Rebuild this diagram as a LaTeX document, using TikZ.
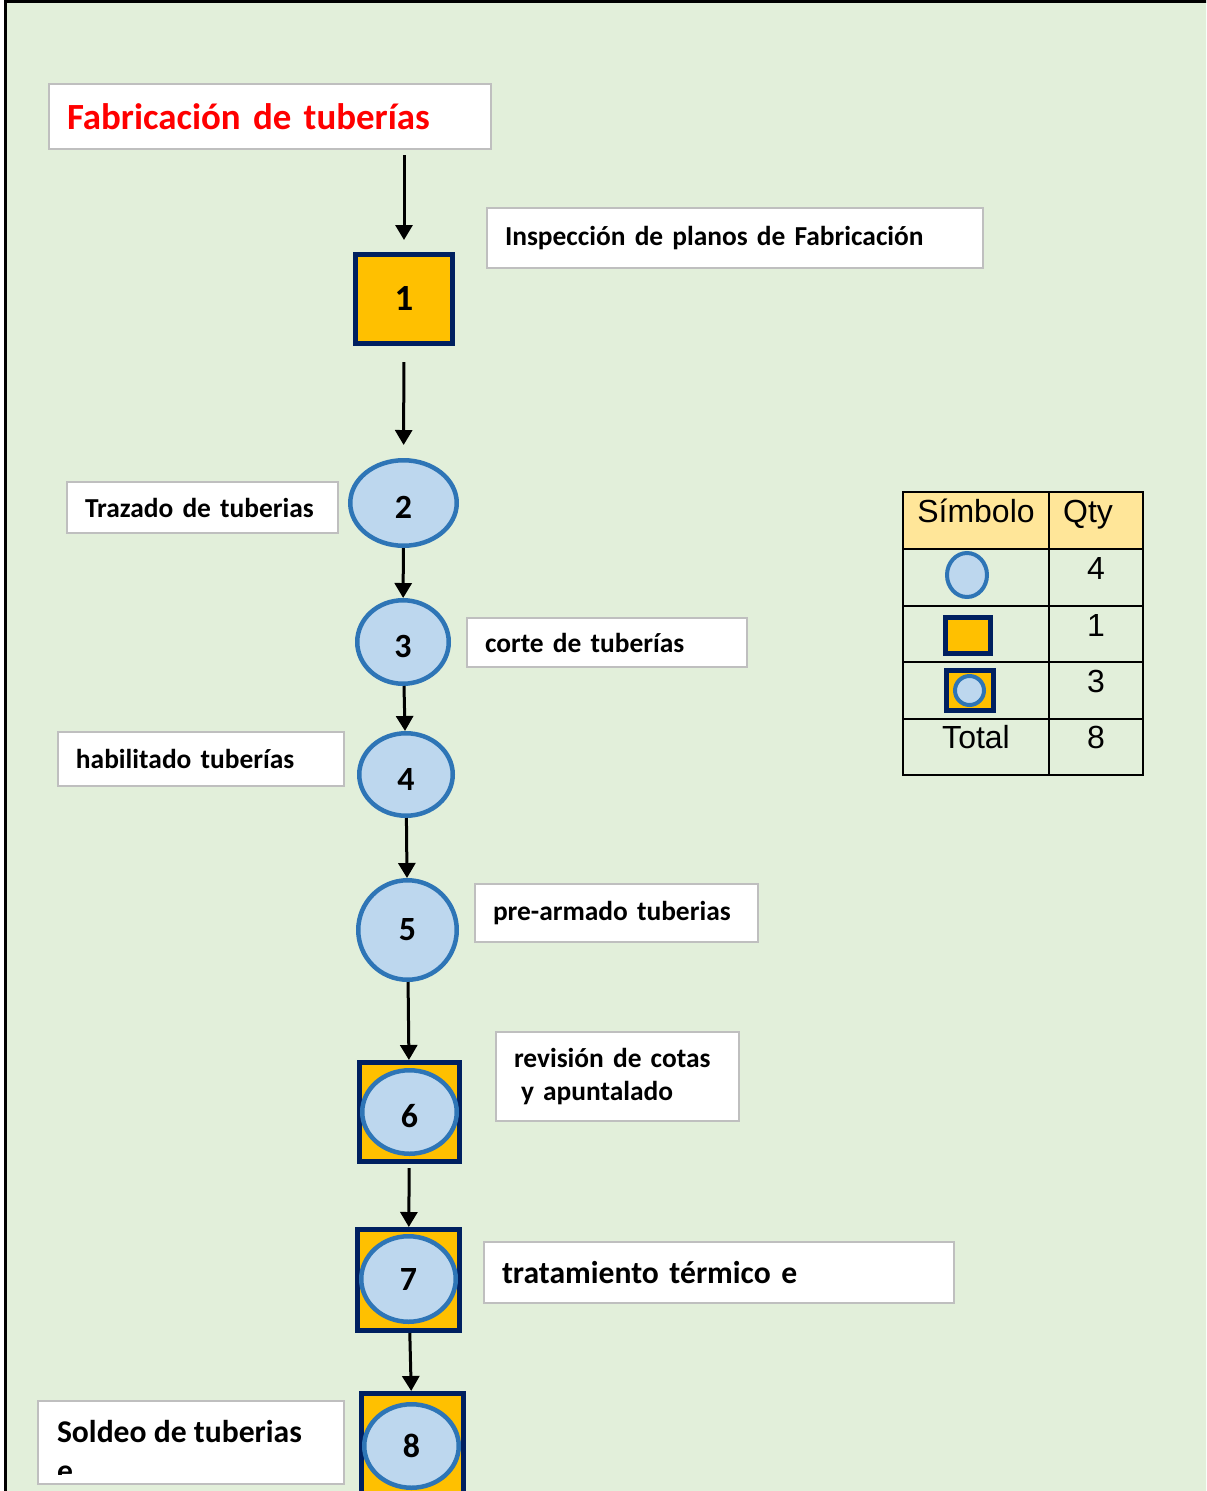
\documentclass[tikz,border=0pt]{standalone}
\usepackage{fontspec}
\setmainfont{Carlito}
\newfontfamily\arialfont{Liberation Sans}
\usetikzlibrary{shapes.geometric,arrows.meta}

\newlength\pxu
\setlength\pxu{0.2mm}

\definecolor{bggreen}{HTML}{E2EFDA}
\definecolor{gold}{HTML}{FFC000}
\definecolor{navy}{HTML}{002060}
\definecolor{paleblue}{HTML}{BDD7EE}
\definecolor{stepblue}{HTML}{2E75B6}
\definecolor{headgold}{HTML}{FFE699}
\definecolor{lblgray}{HTML}{BFBFBF}

\tikzset{
  sq/.style = {draw=navy, fill=gold, line width=5\pxu, rectangle, inner sep=0pt,
               font=\bfseries\fontsize{21pt}{24pt}\selectfont},
  circ/.style = {draw=stepblue, fill=paleblue, line width=4.5\pxu, ellipse, inner sep=0pt,
                 font=\bfseries\fontsize{19.3pt}{22pt}\selectfont},
  num/.style = {text height=6.2mm, text depth=0pt},
  lbl/.style = {draw=lblgray, fill=white, line width=2\pxu, anchor=west, align=left,
                inner xsep=18\pxu, inner ysep=0pt,
                font=\bfseries\fontsize{15.6pt}{19.3pt}\selectfont},
  biglbl/.style = {lbl, font=\bfseries\fontsize{18pt}{22.2pt}\selectfont},
  flow/.style = {line width=0.6mm, -{Triangle[length=3mm, width=3.4mm]}},
  tbl/.style = {line width=0.4mm, black},
  tbltxt/.style = {font=\arialfont\fontsize{18.2pt}{20pt}\selectfont, inner sep=0pt, anchor=base}
}

\begin{document}
\begin{tikzpicture}[x=0.2mm, y=-0.2mm]
    \useasboundingbox (0,0) rectangle (1206,1491);
    \clip (0,0) rectangle (1206,1491);
    \draw[line width=0.6mm, fill=bggreen] (5.5,1.5) rectangle (1220,1510);

    % title and labels
    \node[lbl, text width=406\pxu, minimum height=65\pxu, text=red,
          font=\bfseries\fontsize{21pt}{24pt}\selectfont] (title) at (48,116.5) {Fabricación de tuberías};
    \node[lbl, text width=460\pxu, minimum height=60\pxu] (insp) at (486,238) {Inspección de planos de Fabricación};
    \node[lbl, text width=235\pxu, minimum height=51\pxu] (traz) at (66,507.5) {Trazado de tuberias};
    \node[lbl, text width=244\pxu, minimum height=49\pxu] (corte) at (466,642.5) {corte de tuberías};
    \node[lbl, text width=250\pxu, minimum height=54\pxu] (habil) at (57,759) {habilitado tuberías};
    \node[lbl, text width=247\pxu, minimum height=58\pxu] (prearm) at (474,913) {pre-armado tuberias};
    \node[lbl, text width=207\pxu, minimum height=89\pxu] (revis) at (495,1076.5) {revisión de cotas\\\hspace*{7\pxu}y apuntalado};
    \node[biglbl, text width=434\pxu, minimum height=61\pxu] (trat) at (483,1272.5) {tratamiento térmico e};
    \node[lbl, text width=270\pxu, minimum height=83\pxu, anchor=north west] (sold) at (37,1400) {};
    \begin{scope}
        \clip (sold.north west) rectangle ([yshift=2.2mm]sold.south east);
        \node[biglbl, draw=none, fill=none, anchor=north west, inner sep=0pt] (soldtxt) at (56,1419) {Soldeo de tuberias\\e};
    \end{scope}

    % steps
    \node[sq, minimum width=97\pxu, minimum height=89\pxu] (b1) at (404,299) {1};
    \node[circ, num, minimum width=106.5\pxu, minimum height=85.5\pxu] (c2) at (403.5,503) {2};
    \node[circ, num, minimum width=91.5\pxu, minimum height=83.5\pxu] (c3) at (403,642) {3};
    \node[circ, num, minimum width=93.5\pxu, minimum height=82.5\pxu] (c4) at (406,774.5) {4};
    \node[circ, minimum width=98.5\pxu, minimum height=99.5\pxu] (c5) at (407.5,930) {5};
    \node[sq, minimum width=100\pxu, minimum height=99\pxu] (s6) at (409.5,1112) {};
    \node[circ, num, minimum width=94.5\pxu, minimum height=83.5\pxu] (c6) at (409.5,1112) {6};
    \node[sq, minimum width=102\pxu, minimum height=101\pxu] (s7) at (408.5,1280) {};
    \node[circ, minimum width=94.5\pxu, minimum height=85.5\pxu] (c7) at (408.5,1279) {7};
    \node[sq, minimum width=102\pxu, minimum height=100\pxu] (s8) at (412.5,1443.5) {};
    \node[circ, minimum width=94.5\pxu, minimum height=83.5\pxu] (c8) at (411.5,1446) {8};

    \draw[flow, shorten <=1mm, shorten >=2.4mm] (title.south -| b1) -- (b1);
    \draw[flow, shorten <=3.2mm, shorten >=2.6mm] (b1) -- (c2);
    \draw[flow] (c2) -- (c3);
    \draw[flow] (c3) -- (c4);
    \draw[flow] (c4) -- (c5);
    \draw[flow] (c5) -- (s6);
    \draw[flow, shorten <=0.8mm] (s6) -- (s7);
    \draw[flow] (s7) -- (s8);

    % symbol table
    \fill[headgold] (903,492) rectangle (1143,549);
    \draw[tbl] (903,492) rectangle (1143,775);
    \foreach \y in {549,606,662,719}
        \draw[tbl] (903,\y) -- (1143,\y);
    \draw[tbl] (1049,492) -- (1049,775);
    \node[tbltxt] (hsym) at (976,522) {Símbolo};
    \node[tbltxt] (hqty) at (1088,522) {Qty};
    \node[circ, line width=4\pxu, minimum width=40\pxu, minimum height=44\pxu] (ksym1) at (967,575) {};
    \node[sq, minimum width=45\pxu, minimum height=36\pxu] (ksym2) at (968,635.5) {};
    \node[sq, minimum width=47\pxu, minimum height=40\pxu] (ksym3) at (970,690.5) {};
    \node[circ, line width=4\pxu, minimum width=29\pxu, minimum height=29\pxu] (ksym3c) at (969.5,690.5) {};
    \node[tbltxt] (q1) at (1096,579) {4};
    \node[tbltxt] (q2) at (1096,636) {1};
    \node[tbltxt] (q3) at (1096,692) {3};
    \node[tbltxt] (ktot) at (976,748) {Total};
    \node[tbltxt] (qtot) at (1096,748) {8};
\end{tikzpicture}
\end{document}
